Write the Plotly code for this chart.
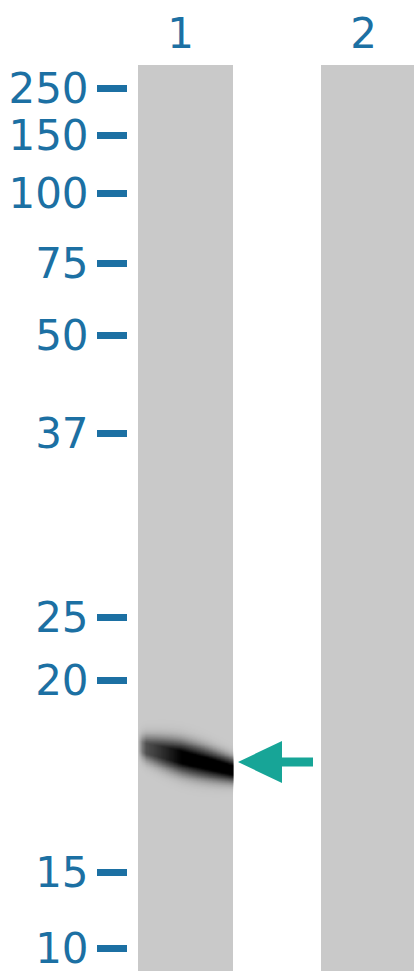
import numpy as np
import plotly.graph_objects as go

# ---- data ----
lanes = [1, 2]
lane_labels = ["1", "2"]
marker_labels = ["250", "150", "100", "75", "50", "37", "25", "20", "15", "10"]
marker_migration = [23, 70, 128, 198, 270, 368, 552, 615, 807, 883]   # px from top of gel
gel_length = 906
band_lane = 1
band_migration = 697          # centre of detected band
band_intensity = 1.0

# ---- style ----
BLUE = "#1c70a3"
TEAL = "#17a597"
LANE_GRAY = "#c9c9c9"
FONT = "DejaVu Sans"
PX_PER_LANE = 183.0
lane_w = 95 / PX_PER_LANE
x_min = 1 - (185.5 - 128) / PX_PER_LANE
x_max = 2 + (414 - 368.5) / PX_PER_LANE

fig = go.Figure()

# lanes (drawn below all traces)
for ln in lanes:
    fig.add_shape(type="rect", xref="x", yref="y", layer="below",
                  x0=ln - lane_w / 2, x1=ln + lane_w / 2, y0=0, y1=gel_length,
                  fillcolor=LANE_GRAY, line=dict(width=0))

# band rendered as a smooth heatmap blob inside the lane
xl = band_lane - lane_w / 2
xr = band_lane + lane_w / 2
gx = np.linspace(xl, xr, 120)
gy = np.linspace(band_migration - 45, band_migration + 45, 140)
X, Y = np.meshgrid(gx, gy)
t = (X - xl) / (xr - xl)
yc = band_migration - 16 + 24 * t
d = (Y - yc)
thick = 7.5 + 2.5 * np.sin(np.pi * np.clip(t, 0, 1))
prof = np.clip(t / 0.08, 0, 1) ** 0.7 * (0.5 + 0.5 * np.clip((t - 0.05) / 0.4, 0, 1))
Z = band_intensity * np.clip(1.2 * np.exp(-0.5 * (d / thick) ** 2), 0, 1) * prof
fig.add_trace(go.Heatmap(x=gx, y=gy, z=Z, zmin=0, zmax=1, zsmooth="best",
                         colorscale=[[0, "rgba(0,0,0,0)"], [0.5, "rgba(25,25,25,0.65)"], [1, "rgba(0,0,0,1)"]],
                         showscale=False, hoverinfo="skip"))

# arrow pointing at the band
tip_x = xr + 5 / PX_PER_LANE
head_len = 44 / PX_PER_LANE
shaft_len = 31 / PX_PER_LANE
hh, sh = 21, 4.5
ay = band_migration
ax_pts = [tip_x, tip_x + head_len, tip_x + head_len, tip_x + head_len + shaft_len,
          tip_x + head_len + shaft_len, tip_x + head_len, tip_x + head_len, tip_x]
ay_pts = [ay, ay - hh, ay - sh, ay - sh, ay + sh, ay + sh, ay + hh, ay]
fig.add_trace(go.Scatter(x=ax_pts, y=ay_pts, mode="lines", fill="toself",
                         fillcolor=TEAL, line=dict(width=0, color=TEAL),
                         hoverinfo="skip", showlegend=False))

fig.update_layout(
    width=414, height=971,
    margin=dict(l=128, r=0, t=65, b=0),
    paper_bgcolor="white", plot_bgcolor="white",
    showlegend=False,
    xaxis=dict(range=[x_min, x_max], side="top", tickvals=lanes, ticktext=lane_labels,
               ticks="", showgrid=False, zeroline=False, showline=False, automargin=False,
               ticklabeloverflow="allow", ticklabelshift=-5,
               tickfont=dict(family=FONT, size=42, color=BLUE), ticklabelstandoff=8),
    yaxis=dict(range=[gel_length, 0], tickvals=marker_migration, ticktext=marker_labels,
               ticks="outside", ticklen=30, tickwidth=7, tickcolor=BLUE,
               showgrid=False, zeroline=False, showline=False, automargin=False,
               ticklabeloverflow="allow",
               tickfont=dict(family=FONT, size=42, color=BLUE), ticklabelstandoff=0),
)

# remove the page's default body margin so the figure fills the window exactly
fig.write_html("out.html", config={"displayModeBar": False},
               post_script="document.body.style.margin='0';document.body.style.overflow='hidden';")
